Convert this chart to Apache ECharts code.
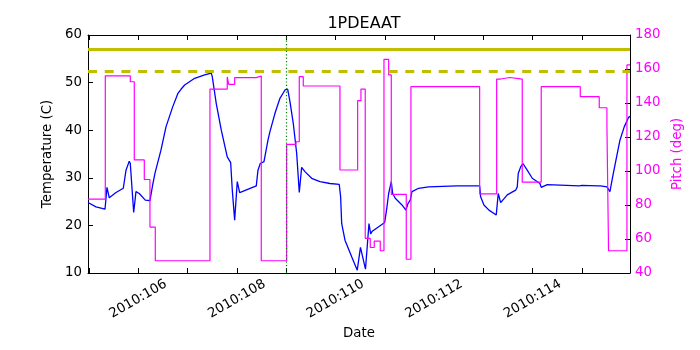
<!DOCTYPE html>
<html>
<head>
<meta charset="utf-8">
<script src="https://cdn.jsdelivr.net/npm/echarts@6/dist/echarts.min.js"></script>
<style>html,body{margin:0;padding:0;background:#fff}#c{width:700px;height:350px}</style>
</head>
<body>
<div id="c"></div>
<script>
// Temperature (left axis, deg C) vs day of year 2010
const tempDays = [104.980,105.142,105.325,105.365,105.412,105.548,105.696,105.751,105.817,105.838,105.907,105.953,106.020,106.142,106.237,106.292,106.339,106.379,106.460,106.562,106.698,106.805,106.866,106.941,107.144,107.347,107.481,107.501,107.582,107.684,107.805,107.874,107.907,107.955,108.008,108.057,108.394,108.428,108.475,108.550,108.631,108.671,108.773,108.874,108.976,109.030,109.077,109.144,109.213,109.266,109.314,109.381,109.517,109.686,109.888,110.077,110.105,110.126,110.193,110.329,110.442,110.507,110.538,110.609,110.680,110.714,110.740,110.998,111.045,111.079,111.132,111.160,111.213,111.349,111.430,111.471,111.517,111.552,111.688,111.890,112.465,112.925,112.945,113.012,113.114,113.262,113.302,113.351,113.485,113.655,113.688,113.708,113.757,113.803,113.890,113.992,114.148,114.174,114.296,114.945,114.980,115.000,115.318,115.351,115.375,115.507,115.568,115.623,115.690,115.771,115.858,115.947,115.975];
const tempValues = [24.8,23.9,23.4,28.0,25.8,26.9,27.8,31.6,33.5,33.0,22.7,27.1,26.7,25.3,25.2,28.5,31.0,31.4,35.8,40.7,44.9,47.75,48.6,49.5,50.9,51.6,52.0,51.25,45.6,40.0,34.4,33.2,27.4,21.1,29.2,26.9,28.3,31.6,33.0,33.4,37.9,39.7,43.55,46.7,48.45,48.65,46.0,41.45,35.15,26.9,32.2,31.3,29.9,29.2,28.8,28.6,26.0,20.4,16.9,13.4,10.6,15.4,15.0,10.8,20.4,18.2,18.7,20.6,23.9,26.7,29.2,26.7,25.7,24.3,23.2,24.6,25.3,27.1,27.8,28.1,28.3,28.3,26.0,24.3,23.2,22.2,26.7,24.8,26.4,27.4,28.1,30.9,32.3,33.0,31.6,29.9,28.8,28.0,28.55,28.3,27.9,28.4,28.3,28.0,28.3,28.1,27.1,30.2,33.7,37.9,40.7,42.7,42.9];

// Pitch (right axis, deg): value holds from each day until the next one
const pitchDays = [104.980,105.331,105.838,105.919,106.122,106.237,106.345,107.454,107.805,107.834,107.955,108.393,108.495,109.010,109.199,109.266,109.347,110.091,110.450,110.517,110.604,110.706,110.787,110.909,110.984,111.079,111.132,111.436,111.531,112.925,113.270,113.351,113.540,113.789,114.174,114.966,115.351,115.507,115.540,115.913,115.975];
const pitchValues = [83.5,156,152.5,106.5,95,67,47.2,148.2,155.3,151,154.9,155.9,47.2,115.7,117.2,155.5,150,100.6,141.4,148.2,60.4,55,58.8,53.1,165.7,156.5,86.3,48.1,149.6,86.6,154.1,155,154.1,93.4,149.6,143.7,137.2,126,53.1,162.4,162.4];

const tempLimits = [57, 52.4];      // solid, dashed
const markerDay = 109;
const xMin = 104.98, xMax = 115.975;
const xTickValues = [105,106,107,108,109,110,111,112,113,114,115];
const xLabelValues = [106,108,110,112,114];
const xTickLabels = ['2010:106','2010:108','2010:110','2010:112','2010:114'];

const FONT = 'DejaVu Sans';
const FS = 13.33;
const tempData = tempDays.map((d, i) => [d, tempValues[i]]);
const pitchData = pitchDays.map((d, i) => [d, pitchValues[i]]);

const chart = echarts.init(document.getElementById('c'), null, {renderer: 'canvas'});
const baseX = {
  type: 'value', min: xMin, max: xMax,
  splitLine: {show: false},
  axisLine: {show: true, onZero: false, lineStyle: {color: '#000', width: 1}},
  axisTick: {show: true, inside: true, length: 5, customValues: xTickValues, lineStyle: {color: '#000'}}
};
chart.setOption({
  animation: false,
  backgroundColor: '#fff',
  title: {
    text: '1PDEAAT', left: 359, top: 11, textAlign: 'center',
    textStyle: {fontFamily: FONT, fontSize: 16, fontWeight: 'normal', color: '#000'}
  },
  grid: {left: 88, right: 70, top: 35, bottom: 77, containLabel: false, outerBoundsMode: 'none'},
  xAxis: [
    Object.assign({}, baseX, {
      position: 'bottom',
      name: 'Date', nameLocation: 'middle', nameGap: 50,
      nameTextStyle: {fontFamily: FONT, fontSize: FS, color: '#000'},
      axisLabel: {
        show: true, rotate: 30, align: 'center', verticalAlign: 'middle', margin: 26,
        customValues: xLabelValues,
        formatter: v => xTickLabels[xLabelValues.indexOf(Math.round(v))] || '',
        fontFamily: FONT, fontSize: FS, color: '#000'
      }
    }),
    Object.assign({}, baseX, {position: 'top', axisLabel: {show: false}})
  ],
  yAxis: [
    {
      type: 'value', min: 10, max: 60, interval: 10, position: 'left',
      name: 'Temperature (C)', nameLocation: 'middle', nameGap: 28, nameRotate: 90,
      nameTextStyle: {fontFamily: FONT, fontSize: FS, color: '#000'},
      splitLine: {show: false},
      axisLine: {show: true, lineStyle: {color: '#000', width: 1}},
      axisTick: {show: true, inside: true, length: 5, lineStyle: {color: '#000'}},
      axisLabel: {margin: 6, fontFamily: FONT, fontSize: FS, color: '#000'}
    },
    {
      type: 'value', min: 40, max: 180, interval: 20, position: 'right',
      name: 'Pitch (deg)', nameLocation: 'middle', nameGap: 31, nameRotate: 90,
      nameTextStyle: {fontFamily: FONT, fontSize: FS, color: '#ff00ff'},
      splitLine: {show: false},
      axisLine: {show: true, lineStyle: {color: '#000', width: 1}},
      axisTick: {show: true, inside: true, length: 5, lineStyle: {color: '#000'}},
      axisLabel: {margin: 5, fontFamily: FONT, fontSize: FS, color: '#ff00ff'}
    }
  ],
  series: [
    {
      name: 'Temperature', type: 'line', xAxisIndex: 0, yAxisIndex: 0,
      data: tempData, symbol: 'none', showSymbol: false,
      lineStyle: {color: '#0000ff', width: 1.3}, itemStyle: {color: '#0000ff'},
      z: 2,
      markLine: {
        silent: true, symbol: 'none', label: {show: false}, animation: false,
        data: [
          {yAxis: tempLimits[0], lineStyle: {color: '#bfbf00', width: 3, type: 'solid'}},
          {yAxis: tempLimits[1], lineStyle: {color: '#bfbf00', width: 3, type: [9, 7.7]}},
          {xAxis: markerDay, lineStyle: {color: '#008000', width: 1.2, type: [1.2, 2.2]}}
        ]
      }
    },
    {
      name: 'Pitch', type: 'line', xAxisIndex: 0, yAxisIndex: 1,
      data: pitchData, step: 'end', symbol: 'none', showSymbol: false,
      lineStyle: {color: '#ff00ff', width: 1.2}, itemStyle: {color: '#ff00ff'},
      z: 3
    }
  ]
});
</script>
</body>
</html>
